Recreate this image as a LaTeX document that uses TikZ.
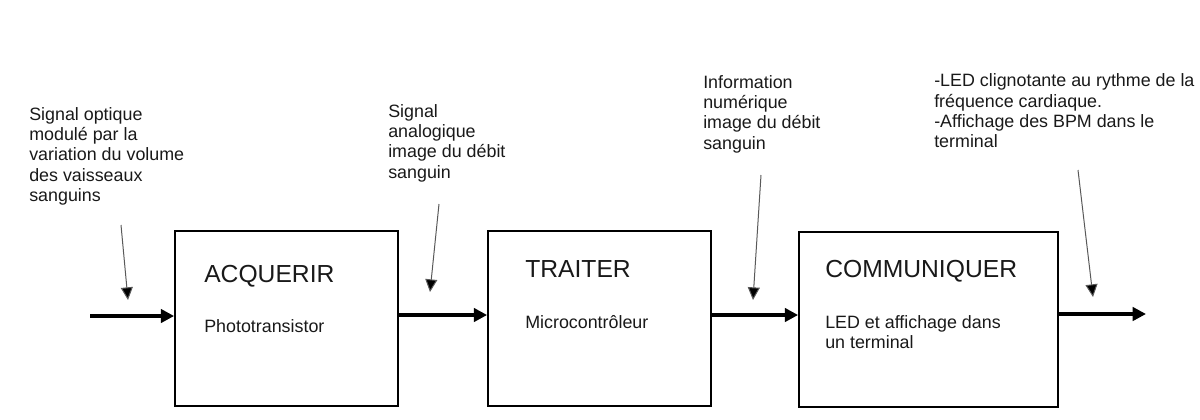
\documentclass[tikz,border=0pt]{standalone}
\usepackage{fontspec}
\setmainfont{Liberation Sans}
\usetikzlibrary{arrows.meta}
\newcommand\lblfont{\fontsize{13.4}{15.2}\selectfont}
\newcommand\ttlfont{\fontsize{18.5}{22}\selectfont}
\tikzset{
  blockbox/.style={draw=black, line width=1.3pt, inner sep=0pt, fill=none},
  txt/.style={anchor=north west, inner sep=0pt, align=left, font=\lblfont, text=black!90},
  ttl/.style={anchor=north west, inner sep=0pt, align=left, font=\ttlfont, text=black!90},
  flow/.style={line width=3.4pt, -{Triangle[length=10pt,width=10pt]}},
  pointer/.style={draw=black!65, line width=0.75pt, -{Triangle[length=9.5pt,width=9pt,fill=black]}}
}
\begin{document}
\begin{tikzpicture}[x=0.75pt, y=-0.75pt]
\useasboundingbox (0,0) rectangle (1200,419);
% boxes
\node[blockbox, minimum width=167.25pt, minimum height=131.25pt] (b1) at (286.5,318.5) {};
\node[blockbox, minimum width=167.25pt, minimum height=131.25pt] (b2) at (599.5,318.5) {};
\node[blockbox, minimum width=194.25pt, minimum height=131.25pt] (b3) at (928.5,319.5) {};
% box texts
\node[ttl] (t1) at (204,265.3) {ACQUERIR};
\node[txt] (s1) at (204,319.2) {Phototransistor};
\node[ttl] (t2) at (525,260.6) {TRAITER};
\node[txt] (s2) at (525,315.2) {Microcontrôleur};
\node[ttl] (t3) at (825,260.3) {COMMUNIQUER};
\node[txt] (s3) at (825,315.2) {LED et affichage dans\\un terminal};
% labels
\node[txt] (l1) at (29,107.2) {Signal optique\\modulé par la\\variation du volume\\des vaisseaux\\sanguins};
\node[txt] (l2) at (388,104.2) {Signal\\analogique\\image du débit\\sanguin};
\node[txt] (l3) at (703,75.2) {Information\\numérique\\image du débit\\sanguin};
\node[txt] (l4) at (934,73.7) {-LED clignotante au rythme de la\\fréquence cardiaque.\\-Affichage des BPM dans le\\terminal};
% flow coordinates
\coordinate (in0) at (90,316);
\coordinate (o1) at (398,315);
\coordinate (o2) at (711,315);
\coordinate (o3) at (1058,314);
\coordinate (out) at (1146,314);
\draw[flow] (in0) -- (in0 -| b1.west);
\draw[flow] (o1) -- (o1 -| b2.west);
\draw[flow] (o2) -- (o2 -| b3.west);
\draw[flow] (o3) -- (out);
% pointer arrows
\coordinate (p1s) at (121,225);
\coordinate (p1e) at (128,300);
\coordinate (p2s) at (439,204);
\coordinate (p2e) at (430,292);
\coordinate (p3s) at (761,175);
\coordinate (p3e) at (753,300);
\coordinate (p4s) at (1078,170);
\coordinate (p4e) at (1093,297);
\draw[pointer] (p1s) -- (p1e);
\draw[pointer] (p2s) -- (p2e);
\draw[pointer] (p3s) -- (p3e);
\draw[pointer] (p4s) -- (p4e);
\end{tikzpicture}
\end{document}
